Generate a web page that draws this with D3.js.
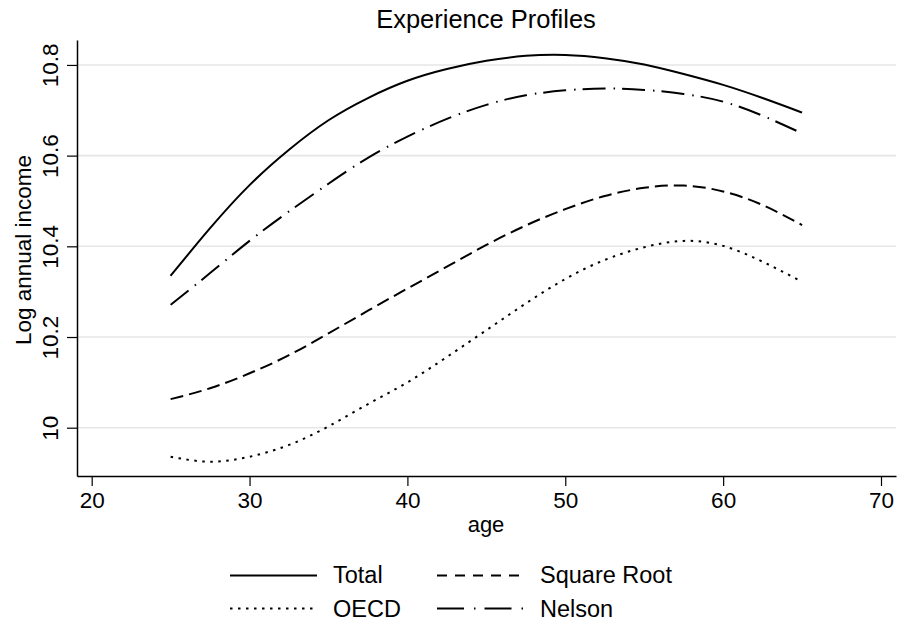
<!DOCTYPE html>
<html>
<head>
<meta charset="utf-8">
<script src="https://cdn.jsdelivr.net/npm/d3@7"></script>
<style>
  body { margin: 0; background: #fff; }
  svg { display: block; font-family: "Liberation Sans", Arial, Helvetica, sans-serif; }
</style>
</head>
<body>
<svg id="chart" width="899" height="626"></svg>
<script>
// ---- data ----
const ages = [25, 27.5, 30, 32.5, 35, 37.5, 40, 42.5, 45, 47.5, 50, 52.5, 55, 57.5, 60, 62.5, 65];
const totalVals = [10.335, 10.44, 10.535, 10.613, 10.678, 10.727, 10.765, 10.791, 10.809, 10.82, 10.822, 10.815, 10.801, 10.78, 10.756, 10.727, 10.695];
const sqrtVals  = [10.063, 10.087, 10.12, 10.16, 10.208, 10.258, 10.307, 10.355, 10.403, 10.446, 10.482, 10.511, 10.529, 10.534, 10.521, 10.491, 10.447];
const oecdVals  = [9.936, 9.925, 9.936, 9.962, 10.003, 10.052, 10.1, 10.156, 10.215, 10.274, 10.328, 10.37, 10.398, 10.412, 10.401, 10.366, 10.322];
const nelsonVals= [10.271, 10.341, 10.412, 10.477, 10.538, 10.595, 10.642, 10.681, 10.712, 10.733, 10.744, 10.748, 10.745, 10.736, 10.719, 10.688, 10.649];
const xTicks = [20, 30, 40, 50, 60, 70];
const yTicks = [10, 10.2, 10.4, 10.6, 10.8];
const seriesNames = ["Total", "Square Root", "OECD", "Nelson"];
const titleText = "Experience Profiles";
const xTitle = "age";
const yTitle = "Log annual income";

const series = [
  { name: seriesNames[0], vals: totalVals,  dash: null,          legDash: null },
  { name: seriesNames[1], vals: sqrtVals,   dash: "13,6",        legDash: "10,8" },
  { name: seriesNames[2], vals: oecdVals,   dash: "2.5,5.5",     legDash: "2.5,5.5" },
  { name: seriesNames[3], vals: nelsonVals, dash: "23,8,1.5,7",  legDash: "27,10,1.5,9" }
];

// ---- layout ----
const svg = d3.select("#chart");
const x = d3.scaleLinear().domain([19.07, 70.95]).range([77, 896]);
const y = d3.scaleLinear().domain([9.8935, 10.855]).range([476, 40]);

// gridlines
svg.append("g").selectAll("line").data(yTicks).join("line")
  .attr("x1", 78).attr("x2", 896)
  .attr("y1", d => y(d)).attr("y2", d => y(d))
  .attr("stroke", "#e6e6e6").attr("stroke-width", 1.6);

// axes
const xAxis = svg.append("g").attr("transform", "translate(0,476)")
  .call(d3.axisBottom(x).tickValues(xTicks).tickSize(10).tickSizeOuter(0).tickPadding(6).tickFormat(d3.format("d")));
xAxis.select(".domain").attr("stroke", "#000").attr("stroke-width", 1.5);
xAxis.selectAll(".tick line").attr("stroke", "#000").attr("stroke-width", 1.2);
xAxis.selectAll(".tick text").attr("font-size", 22.5).attr("fill", "#000")
  .attr("font-family", "Liberation Sans, Arial, sans-serif").attr("dy", "0.71em");

const yAxis = svg.append("g").attr("transform", "translate(77,0)")
  .call(d3.axisLeft(y).tickValues(yTicks).tickSize(10).tickSizeOuter(0).tickFormat(d => d3.format("")(+d.toFixed(1))));
yAxis.select(".domain").attr("stroke", "#000").attr("stroke-width", 1.5);
yAxis.selectAll(".tick line").attr("stroke", "#000").attr("stroke-width", 1.2);
yAxis.selectAll(".tick text")
  .attr("font-size", 22.5).attr("fill", "#000")
  .attr("font-family", "Liberation Sans, Arial, sans-serif")
  .attr("x", null).attr("dy", null)
  .attr("text-anchor", "middle")
  .attr("transform", "translate(-19,0) rotate(-90)");

// lines
const line = d3.line().x(d => x(d[0])).y(d => y(d[1])).curve(d3.curveNatural);
svg.append("g").selectAll("path").data(series).join("path")
  .attr("d", s => line(ages.map((a, i) => [a, s.vals[i]])))
  .attr("fill", "none").attr("stroke", "#000").attr("stroke-width", 2)
  .attr("stroke-dasharray", s => s.dash);

// titles
svg.append("text").attr("x", 486).attr("y", 28).attr("text-anchor", "middle")
  .attr("font-size", 25.5).text(titleText);
svg.append("text").attr("x", 486).attr("y", 532).attr("text-anchor", "middle")
  .attr("font-size", 22).text(xTitle);
svg.append("text").attr("transform", "translate(31,250) rotate(-90)").attr("text-anchor", "middle")
  .attr("font-size", 22.5).text(yTitle);

// legend
const legPos = [
  { lx: 230, ty: 583, ly: 575.5 },
  { lx: 437, ty: 583, ly: 575.5 },
  { lx: 230, ty: 617, ly: 608.5 },
  { lx: 437, ty: 617, ly: 608.5 }
];
const leg = svg.append("g").selectAll("g").data(series).join("g");
leg.append("line")
  .attr("x1", (s, i) => legPos[i].lx).attr("x2", (s, i) => legPos[i].lx + 87)
  .attr("y1", (s, i) => legPos[i].ly).attr("y2", (s, i) => legPos[i].ly)
  .attr("stroke", "#000").attr("stroke-width", 2)
  .attr("stroke-dasharray", s => s.legDash);
leg.append("text")
  .attr("x", (s, i) => legPos[i].lx + 103).attr("y", (s, i) => legPos[i].ty)
  .attr("font-size", 23.5).text(s => s.name);
</script>
</body>
</html>
